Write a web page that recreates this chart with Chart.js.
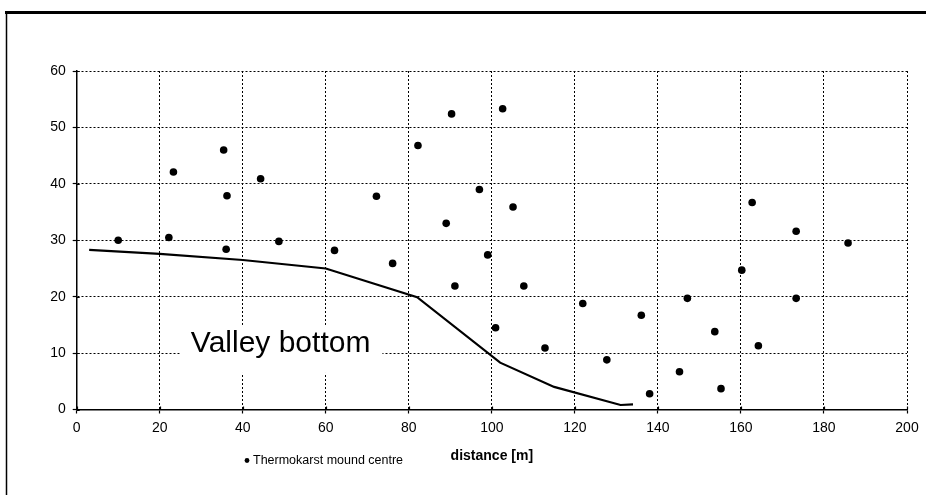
<!DOCTYPE html>
<html>
<head>
<meta charset="utf-8">
<title>Thermokarst mound centres</title>
<script src="https://cdn.jsdelivr.net/npm/chart.js@4.4.1/dist/chart.umd.min.js"></script>
<style>
  html, body { margin: 0; padding: 0; background: #fff; }
  #wrap { width: 926px; height: 495px; }
</style>
</head>
<body>
<div id="wrap"><canvas id="chart" width="926" height="495"></canvas></div>
<script>
/*global Chart*/
// mound centres
var moundX = [10, 22.2, 23.3, 35.4, 36.2, 36.0, 44.3, 48.7, 62.1, 72.2, 76.1, 82.2,
  89.0, 90.3, 91.1, 97.0, 99.0, 100.9, 102.6, 105.1, 107.7, 112.8, 121.9, 127.7,
  136.0, 138.0, 145.2, 147.1, 153.7, 155.2, 160.2, 162.7, 164.2, 173.3, 173.3, 185.8];
var moundY = [30.0, 30.5, 42.1, 46.0, 37.9, 28.4, 40.9, 29.8, 28.2, 37.8, 25.9, 46.8,
  33.0, 52.4, 21.9, 39.0, 27.4, 14.5, 53.3, 35.9, 21.9, 10.9, 18.8, 8.8,
  16.7, 2.8, 6.7, 19.7, 13.8, 3.7, 24.7, 36.7, 11.3, 31.6, 19.7, 29.5];

// valley bottom profile
var valleyX = [3, 20, 40, 60, 82, 102, 115, 131, 134];
var valleyY = [28.3, 27.6, 26.5, 25.0, 19.9, 8.3, 4.0, 0.8, 0.9];

var xTicks = [0, 20, 40, 60, 80, 100, 120, 140, 160, 180, 200];
var yTicks = [0, 10, 20, 30, 40, 50, 60];

var moundLabel = "Thermokarst mound centre";
var valleyLabel = "Valley bottom";
var xTitle = "distance [m]";
var valleyLabelAt = [27.5, 10.2]; // data coords of the label's left baseline

var FONT = "'Liberation Sans', Arial, sans-serif";

var toPoints = function(xs, ys) {
  return xs.map(function(x, i) { return {x: x, y: ys[i]}; });
};

// frame around the figure, inner tick stubs, the valley label and the little legend
var extras = {
  id: 'extras',
  afterDraw: function(chart) {
    var ctx = chart.ctx;
    var xs = chart.scales.x, ys = chart.scales.y;
    var area = chart.chartArea;
    ctx.save();

    ctx.strokeStyle = '#000';
    ctx.lineWidth = 3;
    ctx.beginPath();
    ctx.moveTo(5, 12.5);
    ctx.lineTo(926, 12.5);
    ctx.stroke();
    ctx.lineWidth = 1.5;
    ctx.beginPath();
    ctx.moveTo(6.5, 12);
    ctx.lineTo(6.5, 495);
    ctx.stroke();

    // tick marks poke a little inside the axes too
    ctx.lineWidth = 1.2;
    ctx.beginPath();
    xs.ticks.forEach(function(t) {
      var px = Math.round(xs.getPixelForValue(t.value)) + 0.5;
      ctx.moveTo(px, area.bottom);
      ctx.lineTo(px, area.bottom - 3);
    });
    ys.ticks.forEach(function(t) {
      var py = Math.round(ys.getPixelForValue(t.value)) + 0.5;
      ctx.moveTo(area.left, py);
      ctx.lineTo(area.left + 3, py);
    });
    ctx.stroke();

    // valley bottom text on a white patch
    var tx = xs.getPixelForValue(valleyLabelAt[0]);
    var ty = ys.getPixelForValue(valleyLabelAt[1]);
    ctx.font = '30px ' + FONT;
    var w = ctx.measureText(valleyLabel).width;
    ctx.fillStyle = '#fff';
    ctx.fillRect(tx - 11, ty - 27, w + 23, 48);
    ctx.fillStyle = '#000';
    ctx.textBaseline = 'alphabetic';
    ctx.textAlign = 'left';
    ctx.fillText(valleyLabel, tx, ty);

    // legend
    ctx.beginPath();
    ctx.arc(247, 460.5, 2.4, 0, Math.PI * 2);
    ctx.fill();
    ctx.font = '12.5px ' + FONT;
    ctx.textBaseline = 'middle';
    ctx.fillText(moundLabel, 253, 460.5);
    ctx.restore();
  }
};

var ctx = document.getElementById('chart').getContext('2d');
var chart = new Chart(ctx, {
  type: 'scatter',
  data: {
    datasets: [{
      label: valleyLabel,
      data: toPoints(valleyX, valleyY),
      showLine: true,
      borderColor: '#000',
      borderWidth: 2.2,
      pointRadius: 0,
      tension: 0
    }, {
      label: moundLabel,
      data: toPoints(moundX, moundY),
      backgroundColor: '#000',
      borderColor: '#000',
      pointRadius: 3.8,
      pointBorderWidth: 0
    }]
  },
  options: {
    responsive: false,
    animation: false,
    layout: { padding: { left: 0, top: 71, right: 19, bottom: 0 } },
    plugins: {
      legend: { display: false },
      tooltip: { enabled: false }
    },
    scales: {
      x: {
        type: 'linear',
        min: 0,
        max: 200,
        afterBuildTicks: function(scale) {
          scale.ticks = xTicks.map(function(v) { return {value: v}; });
        },
        afterFit: function(scale) { scale.height = 85.5; },
        ticks: { color: '#000', font: { family: FONT, size: 14 }, padding: 6, maxRotation: 0 },
        grid: { color: '#000', lineWidth: 1, tickLength: 4, tickBorderDash: [], tickWidth: 1.2 },
        border: { color: '#000', width: 1.5, dash: [2, 2] },
        title: {
          display: true,
          text: xTitle,
          color: '#000',
          font: { family: FONT, size: 14, weight: 'bold' },
          padding: { top: 0, bottom: 30 }
        }
      },
      y: {
        type: 'linear',
        min: 0,
        max: 60,
        afterBuildTicks: function(scale) {
          scale.ticks = yTicks.map(function(v) { return {value: v}; });
        },
        afterFit: function(scale) { scale.width = 76.7; },
        ticks: { color: '#000', font: { family: FONT, size: 14 }, padding: 7 },
        grid: { color: '#000', lineWidth: 1, tickLength: 4, tickBorderDash: [], tickWidth: 1.2 },
        border: { color: '#000', width: 1.5, dash: [2, 2] }
      }
    }
  },
  plugins: [extras]
});
</script>
</body>
</html>
